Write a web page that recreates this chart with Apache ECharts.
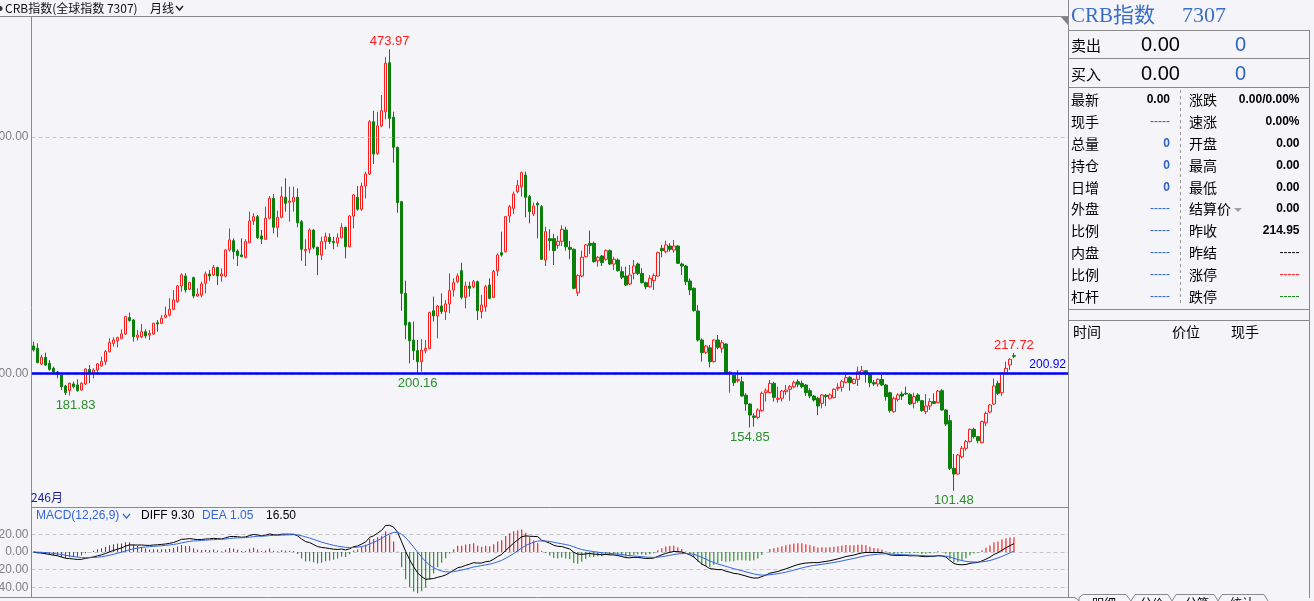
<!DOCTYPE html>
<html><head><meta charset="utf-8">
<script src="https://cdn.jsdelivr.net/npm/echarts@6/dist/echarts.min.js"></script>
<style>html,body{margin:0;padding:0;background:#f4f4f9;overflow:hidden}#c{width:1314px;height:601px}</style>
</head><body><div id="c"></div>
<script>
// ---- data (monthly CRB index candles) ----
const openVals = [
223.7,221.7,208.5,214.1,209.0,204.8,201.7,200.0,189.9,186.0,
191.6,190.8,186.5,191.6,203.9,200.6,203.4,206.8,210.4,218.9,
225.9,228.2,230.1,233.8,247.6,245.6,231.0,231.5,235.7,232.9,
233.8,243.3,242.8,247.9,249.8,254.6,261.1,274.3,282.7,271.5,
281.3,265.8,266.7,276.6,284.4,283.6,289.8,282.7,282.7,304.7,
312.5,303.8,300.5,298.5,310.9,329.1,332.8,316.5,313.7,331.4,
348.3,323.8,332.2,349.1,344.9,345.4,349.1,328.5,304.1,305.2,
321.5,306.9,300.4,311.7,315.3,311.9,310.8,315.0,323.8,307.4,
333.3,349.1,339.0,358.6,368.8,412.9,386.2,409.3,421.4,462.7,
416.6,391.3,345.4,268.1,243.3,228.7,219.7,210.4,219.7,221.6,
253.4,249.0,257.4,252.6,259.1,270.9,277.9,287.2,264.7,274.3,
273.7,277.9,252.6,256.8,275.1,264.7,287.2,302.4,303.2,333.3,
339.8,353.9,358.1,367.9,349.7,335.0,344.0,341.2,296.2,314.2,
314.2,308.6,312.0,321.5,306.9,305.2,268.6,282.7,299.0,310.3,
310.3,295.6,299.6,296.8,304.1,292.8,296.2,286.4,282.7,276.0,
284.9,292.8,284.9,277.1,273.7,278.8,282.7,306.0,303.2,308.0,
304.6,308.0,292.8,291.1,278.5,272.3,253.2,228.7,218.3,222.2,
210.4,228.7,221.7,225.3,200.6,199.2,194.4,193.5,182.1,174.7,
164.6,163.4,169.1,184.3,184.3,192.1,178.6,179.5,185.1,187.1,
189.3,193.5,192.1,190.7,185.9,181.4,179.5,175.2,182.0,179.5,
180.0,187.9,188.8,193.0,197.2,192.1,195.5,200.6,202.8,200.0,
192.7,191.6,195.5,190.7,184.2,168.2,178.6,183.1,183.7,182.8,
175.2,182.3,177.5,168.2,173.0,176.7,175.8,185.9,169.6,160.6,
120.4,115.6,130.2,137.3,142.9,153.3,147.1,142.1,158.9,167.9,
174.7,192.1,184.2,200.6,207.6,215.5];
const closeVals = [
220.3,209.6,214.1,207.6,203.9,201.7,200.0,189.3,184.3,192.2,
189.3,186.0,192.2,204.2,200.6,203.4,208.5,210.4,218.9,226.5,
228.7,230.7,233.8,248.4,245.1,231.5,232.9,235.7,232.1,234.3,
242.8,242.2,247.0,249.8,254.6,262.5,274.3,283.6,270.9,277.1,
265.8,267.5,276.0,284.4,282.7,290.0,282.7,284.4,304.7,313.1,
303.3,299.9,299.1,311.7,329.1,332.8,315.1,313.9,331.4,348.3,
323.8,332.2,349.7,344.0,346.0,349.1,327.7,305.2,305.2,321.5,
306.9,300.4,311.7,315.9,311.7,310.8,315.0,323.8,307.4,333.3,
351.1,339.0,358.6,368.8,412.9,385.6,409.3,422.2,462.2,415.7,
391.3,344.6,268.1,241.3,228.1,219.7,210.4,220.2,221.6,251.8,
249.0,257.4,252.6,259.1,270.3,277.1,282.7,264.7,274.3,272.3,
277.9,253.4,258.2,273.7,263.9,286.4,300.4,300.4,332.8,341.2,
351.9,359.2,369.9,349.1,337.0,341.8,342.6,296.8,320.1,312.5,
304.1,312.0,322.1,307.4,305.2,272.3,283.0,298.5,308.9,308.6,
294.8,298.5,294.0,304.1,292.8,296.8,287.2,281.6,275.1,283.5,
291.1,284.9,277.1,273.7,280.7,283.0,302.4,304.1,308.9,305.2,
308.0,293.4,291.1,277.9,270.9,253.5,228.7,218.0,223.6,210.4,
228.7,222.5,226.4,200.6,201.7,192.7,195.5,181.4,174.7,165.4,
163.4,169.6,183.7,185.9,192.1,180.3,179.5,185.6,186.5,189.3,
192.7,191.3,189.3,184.2,181.4,178.1,173.0,182.3,180.9,182.3,
187.1,188.8,193.5,196.9,192.7,195.5,202.0,202.8,199.7,192.7,
191.6,195.5,190.7,180.9,169.1,179.5,182.3,181.4,183.1,174.7,
180.9,177.5,169.1,173.0,176.7,175.2,185.6,169.6,157.8,120.4,
115.6,131.6,137.3,142.9,153.3,147.1,143.7,159.8,166.8,173.8,
189.9,183.7,200.6,204.8,212.4,214.95];
const highVals = [
227.3,225.9,216.1,218.0,211.8,206.2,202.6,201.2,190.8,192.7,
193.6,195.5,193.0,204.8,207.6,204.8,209.0,214.7,220.3,230.1,
231.0,231.5,237.7,249.0,251.8,246.2,237.2,242.2,237.7,237.2,
243.3,245.6,249.8,256.9,263.9,270.9,275.1,285.0,285.0,277.9,
282.2,272.3,277.9,286.4,287.8,292.0,290.6,289.2,305.2,322.9,
314.5,305.2,314.5,313.7,337.0,335.6,334.2,321.6,341.3,350.2,
351.9,337.9,358.1,365.1,358.1,358.1,356.7,330.0,313.6,322.9,
322.1,307.4,315.9,319.3,318.7,315.9,318.7,327.1,324.3,333.9,
351.9,358.6,361.5,370.7,414.3,422.2,421.4,435.4,467.2,473.97,
421.4,391.9,346.0,278.8,244.2,244.2,228.7,229.3,228.7,252.6,
265.3,258.2,268.1,262.4,284.9,280.7,284.9,293.9,277.9,277.9,
279.3,278.8,266.7,275.1,280.7,287.8,301.8,320.1,333.3,342.6,
353.9,363.7,370.7,370.7,351.1,344.6,345.4,342.6,324.3,322.1,
318.2,316.5,325.5,324.3,312.2,306.0,284.1,304.1,309.7,321.0,
311.7,299.6,300.4,305.2,305.2,299.0,297.6,290.6,290.6,292.0,
296.2,294.0,289.2,277.9,283.5,284.9,303.2,308.9,312.5,310.3,
313.1,308.9,294.0,292.0,280.7,273.1,258.2,230.1,224.5,224.5,
229.3,232.9,228.7,225.9,202.0,200.6,203.4,197.8,183.7,175.2,
166.8,171.0,185.1,187.9,194.9,193.5,189.3,186.5,190.7,190.7,
194.4,195.5,194.4,191.6,187.9,182.3,180.9,183.1,183.1,183.7,
187.9,192.1,194.9,199.2,198.3,196.3,206.2,206.8,203.4,200.6,
194.9,196.3,200.6,191.6,185.1,180.9,183.7,185.1,189.3,183.7,
184.2,183.7,178.1,183.1,179.5,183.7,186.5,187.1,170.2,165.4,
132.5,132.5,139.2,144.3,153.9,154.7,147.7,160.6,168.2,174.7,
196.3,194.4,201.1,210.4,213.2,217.72];
const lowVals = [
218.9,209.0,207.6,206.8,202.8,200.6,196.4,186.5,182.3,181.83,
187.9,185.1,186.0,190.8,192.2,196.4,199.2,206.2,207.6,218.0,
223.1,222.5,229.3,232.9,244.2,227.3,228.2,230.1,230.1,228.7,
232.9,235.7,242.2,247.0,248.4,254.1,260.2,269.5,268.7,270.9,
263.9,265.3,264.7,268.1,278.8,282.7,275.1,277.9,281.6,303.3,
296.8,291.2,298.5,297.6,310.3,325.8,313.9,309.7,313.1,330.5,
318.7,315.4,331.4,337.0,328.5,337.0,323.8,295.6,291.1,301.8,
305.2,283.5,296.2,305.2,309.7,305.2,307.4,314.5,297.6,306.9,
322.9,337.8,337.8,348.2,367.9,377.2,384.8,408.2,414.9,407.3,
378.3,336.1,253.4,229.3,209.0,211.8,200.16,202.0,217.4,220.8,
244.2,230.1,250.6,245.6,251.2,265.3,276.5,263.0,255.4,265.3,
272.3,245.6,247.0,252.6,263.0,263.9,282.7,299.0,302.4,327.7,
335.0,352.5,349.7,332.2,327.1,333.3,314.5,296.5,291.1,304.1,
292.0,305.8,308.0,304.1,296.8,271.5,265.8,281.6,298.5,301.3,
294.0,290.6,291.1,295.6,292.0,287.8,286.4,279.9,274.3,275.1,
279.9,283.5,276.5,271.5,272.9,270.9,282.1,298.5,301.8,303.2,
302.4,292.8,283.5,275.1,266.7,252.6,227.3,210.4,216.9,205.6,
209.6,220.8,218.0,200.0,184.3,189.9,192.7,180.9,169.1,154.85,
155.5,161.8,168.2,176.7,183.7,176.7,175.8,176.7,182.3,177.5,
187.9,188.8,187.9,181.4,179.5,176.7,165.4,171.0,173.0,178.6,
179.5,185.9,185.1,192.1,185.9,191.3,189.9,199.2,192.7,188.8,
189.9,189.3,189.9,177.5,167.4,167.4,176.7,178.1,182.3,173.8,
171.0,175.8,168.2,166.2,169.6,174.7,175.2,169.1,156.1,119.0,
101.48,114.8,128.8,135.3,142.1,145.7,141.5,141.5,156.1,166.8,
173.8,182.3,181.4,200.0,203.4,213.2];
// labelled extremes (0-based candle index) and kind
const extremeIdx  = [9, 89, 96, 179, 230, 245];
const extremeKind = ['low','high','low','low','low','high'];
const priceGridValues = [400, 200];
const refPrice = 200.92;
const macdGridValues = [20, 0, -20, -40];
const slotCount = 259;           // category slots on the time axis (246 months + empty space)
const categories = Array.from({length: slotCount}, (_, i) => String(i + 1));

// right-hand quote panel texts
const panelLeftLabels  = ['最新','现手','总量','持仓','日增','外盘','比例','内盘','比例','杠杆'];
const panelLeftValues  = ['0.00','-----','0','0','0','-----','-----','-----','-----','-----'];
const panelRightLabels = ['涨跌','速涨','开盘','最高','最低','结算价','昨收','昨结','涨停','跌停'];
const panelRightValues = ['0.00/0.00%','0.00%','0.00','0.00','0.00','0.00','214.95','-----','-----','-----'];

// ---- derived series ----
const candleData = openVals.map((o, i) => [o, closeVals[i], lowVals[i], highVals[i]]);
function ema(arr, n) {
  const k = 2 / (n + 1); const out = []; let prev = arr[0];
  arr.forEach((v, i) => { prev = i === 0 ? v : prev + k * (v - prev); out.push(prev); });
  return out;
}
const e12 = ema(closeVals, 12), e26 = ema(closeVals, 26);
const diffVals = closeVals.map((_, i) => e12[i] - e26[i]);
const deaVals = ema(diffVals, 9);
const macdVals = diffVals.map((d, i) => 2 * (d - deaVals[i]));

// ---- styling ----
const BG = '#f4f4f9', AX = '#8a8a8a', GRID = '#c4c4c8';
const RED = '#ff1a1a', GREEN = '#0a7f0a', BLUE = '#0000ff';
const NUM = '"Liberation Sans", Arial, sans-serif';
const CJK = '"Noto Sans CJK SC", sans-serif';
const GL = 31.5, GR = 1068;

const chart = echarts.init(document.getElementById('c'), null, {renderer: 'canvas'});

function gridLines(vals, fmtColor) {
  return vals.map(v => ({
    yAxis: v,
    lineStyle: {color: GRID, type: [4, 3], width: 1},
    label: {show: true, position: 'start', distance: 3, formatter: v.toFixed(2),
            color: fmtColor, fontSize: 12, fontFamily: NUM}
  }));
}

const markPts = extremeIdx.map((idx, j) => {
  const hi = extremeKind[j] === 'high';
  const v = hi ? highVals[idx] : lowVals[idx];
  return {
    coord: [categories[idx], v], value: v, symbol: 'rect', symbolSize: 0.01,
    itemStyle: {color: 'rgba(0,0,0,0)'},
    label: {show: true, position: hi ? 'top' : 'bottom', distance: hi ? 1 : 3,
            offset: [j === 0 ? 6 : 0, 0],
            formatter: v.toFixed(2), color: hi ? RED : '#2a8f2a', fontSize: 13, fontFamily: NUM}
  };
});

const T = (x, y, text, font, fill, align) => ({type: 'text', x, y, silent: true, z: 100,
  style: {text, font, fill, align: align || 'left', verticalAlign: 'middle'}});
const Ln = (x1, y1, x2, y2, stroke, dash) => ({type: 'line', silent: true, z: 100,
  shape: {x1, y1, x2, y2}, style: {stroke, lineWidth: 1, lineDash: dash || null}});

const g = [];
// frame lines
g.push(Ln(0, 16.5, GR, 16.5, AX));
g.push(Ln(GL, 17, GL, 598, AX));
g.push(Ln(GL, 507.5, GR, 507.5, AX));
g.push(Ln(0, 597.5, 1075, 597.5, AX));
g.push(Ln(GR + 0.5, 0, GR + 0.5, 598, AX));
g.push({type: 'polygon', silent: true, z: 100, shape: {points: [[1061, 17], [1068, 17], [1068, 25]]}, style: {fill: '#808080'}});
// header
g.push({type: 'circle', silent: true, z: 100, shape: {cx: 0, cy: 8.5, r: 2.5}, style: {fill: '#333'}});
g.push(T(5, 8.5, 'CRB指数(全球指数 7307)', '12px ' + CJK, '#111'));
g.push(T(150, 8.5, '月线', '12px ' + CJK, '#111'));
g.push({type: 'polyline', silent: true, z: 100, shape: {points: [[176, 6], [179.5, 10], [183, 6]]}, style: {stroke: '#222', lineWidth: 1.5, fill: null}});
// bottom-left period tag
g.push(T(31, 497, '246月', '12px ' + CJK, '#1c1c9c'));
// MACD header
g.push(T(36, 515.5, 'MACD(12,26,9)', '12px ' + NUM, '#3366dd'));
g.push({type: 'polyline', silent: true, z: 100, shape: {points: [[123, 514], [126.5, 518], [130, 514]]}, style: {stroke: '#3366dd', lineWidth: 1.2, fill: null}});
g.push(T(141, 515.5, 'DIFF 9.30', '12px ' + NUM, '#000'));
g.push(T(202, 515.5, 'DEA 1.05', '12px ' + NUM, '#3366dd'));
g.push(T(266, 515.5, '16.50', '12px ' + NUM, '#000'));
// right panel
const PB = '#8a8a8a';
g.push(T(1071, 16, 'CRB指数', '21px "Liberation Serif", ' + CJK, '#3a6ec6'));
g.push(T(1182, 16, '7307', '22px "Liberation Serif", serif', '#3a6ec6'));
g.push(Ln(GR, 30.5, 1310, 30.5, PB));
g.push(Ln(1309.5, 30, 1309.5, 598, PB));
g.push(Ln(GR, 58.5, 1310, 58.5, PB));
g.push(Ln(GR, 87.5, 1310, 87.5, PB));
g.push(Ln(GR, 309.5, 1310, 309.5, PB));
g.push(Ln(GR, 320.5, 1310, 320.5, PB));
g.push(Ln(1180.5, 90, 1180.5, 306, '#999', [3, 3]));
g.push(T(1071, 45, '卖出', '15px ' + CJK, '#000'));
g.push(T(1141, 45, '0.00', '20px ' + NUM, '#000'));
g.push(T(1235, 45, '0', '20px ' + NUM, '#2a62c8'));
g.push(T(1071, 74, '买入', '15px ' + CJK, '#000'));
g.push(T(1141, 74, '0.00', '20px ' + NUM, '#000'));
g.push(T(1235, 74, '0', '20px ' + NUM, '#2a62c8'));
panelLeftLabels.forEach((s, i) => {
  const y = 100 + i * 21.8;
  g.push(T(1071, y, s, '14px ' + CJK, '#000'));
  const v = panelLeftValues[i];
  const col = v === '0.00' ? '#000' : '#2a62c8';
  g.push(T(1170, y, v, (v === '-----' ? '' : 'bold ') + '12px ' + NUM, col, 'right'));
  g.push(T(1189, y, panelRightLabels[i], '14px ' + CJK, '#000'));
  const rv = panelRightValues[i];
  let rc = '#000';
  if (i === 8) rc = RED; if (i === 9) rc = GREEN;
  g.push(T(1299.5, y, rv, (rv === '-----' ? '' : 'bold ') + '12px ' + NUM, rc, 'right'));
});
g.push({type: 'polygon', silent: true, z: 100, shape: {points: [[1234, 208], [1242, 208], [1238, 212]]}, style: {fill: '#a0a0a0'}});
g.push(T(1073, 332, '时间', '14px ' + CJK, '#000'));
g.push(T(1172, 332, '价位', '14px ' + CJK, '#000'));
g.push(T(1231, 332, '现手', '14px ' + CJK, '#000'));
// bottom tabs (cut off by the window edge)
g.push({type: 'polyline', silent: true, z: 100, shape: {points: [[1075, 597.5], [1079, 601], [1079, 597.5], [1083, 594.5], [1126, 594.5], [1131, 601]]}, style: {stroke: PB, fill: null, lineWidth: 1}});
g.push({type: 'polyline', silent: true, z: 100, shape: {points: [[1131, 601], [1135, 594.5], [1168, 594.5], [1172, 601], [1176, 594.5], [1214, 594.5], [1218, 601], [1222, 594.5], [1264, 594.5], [1268, 601]]}, style: {stroke: PB, fill: null, lineWidth: 1}});
g.push(T(1092, 603, '明细', '12px ' + CJK, '#000'));
g.push(T(1140, 603, '分价', '12px ' + CJK, '#000'));
g.push(T(1185, 603, '分笔', '12px ' + CJK, '#000'));
g.push(T(1230, 603, '统计', '12px ' + CJK, '#000'));

const option = {
  backgroundColor: BG,
  animation: false,
  grid: [
    {left: GL, top: 17, width: GR - GL, height: 490},
    {left: GL, top: 509, width: GR - GL, height: 89}
  ],
  xAxis: [
    {type: 'category', gridIndex: 0, data: categories, boundaryGap: true,
     axisLine: {show: false}, axisTick: {show: false}, axisLabel: {show: false}, splitLine: {show: false}},
    {type: 'category', gridIndex: 1, data: categories, boundaryGap: true,
     axisLine: {show: false}, axisTick: {show: false}, axisLabel: {show: false}, splitLine: {show: false}}
  ],
  yAxis: [
    {type: 'value', gridIndex: 0, min: 87.76, max: 501.27, axisLine: {show: false},
     axisTick: {show: false}, axisLabel: {show: false}, splitLine: {show: false}},
    {type: 'value', gridIndex: 1, min: -52.0, max: 48.6, axisLine: {show: false},
     axisTick: {show: false}, axisLabel: {show: false}, splitLine: {show: false}}
  ],
  series: [
    {type: 'candlestick', xAxisIndex: 0, yAxisIndex: 0, data: candleData, barWidth: 3,
     itemStyle: {color: BG, color0: GREEN, borderColor: RED, borderColor0: GREEN, borderWidth: 1},
     emphasis: {disabled: true},
     markLine: {silent: true, symbol: ['none', 'none'], animation: false,
       data: gridLines(priceGridValues, '#808080').concat([{
         yAxis: refPrice, lineStyle: {color: BLUE, type: 'solid', width: 2.5},
         label: {show: true, position: 'insideEndTop', distance: 2, formatter: refPrice.toFixed(2),
                 color: BLUE, fontSize: 12, fontFamily: NUM}}])},
     markPoint: {silent: true, animation: false, data: markPts}},
    {type: 'bar', xAxisIndex: 1, yAxisIndex: 1, barWidth: 1, silent: true,
     data: macdVals.map(v => ({value: v, itemStyle: {color: v >= 0 ? '#ee0000' : GREEN}})),
     markLine: {silent: true, symbol: ['none', 'none'], animation: false, z: 1,
       data: gridLines(macdGridValues, '#808080')}},
    {type: 'line', xAxisIndex: 1, yAxisIndex: 1, data: diffVals, symbol: 'none', silent: true,
     lineStyle: {color: '#000', width: 1}},
    {type: 'line', xAxisIndex: 1, yAxisIndex: 1, data: deaVals, symbol: 'none', silent: true,
     lineStyle: {color: '#3366dd', width: 1}}
  ],
  graphic: g
};
chart.setOption(option);
</script></body></html>
